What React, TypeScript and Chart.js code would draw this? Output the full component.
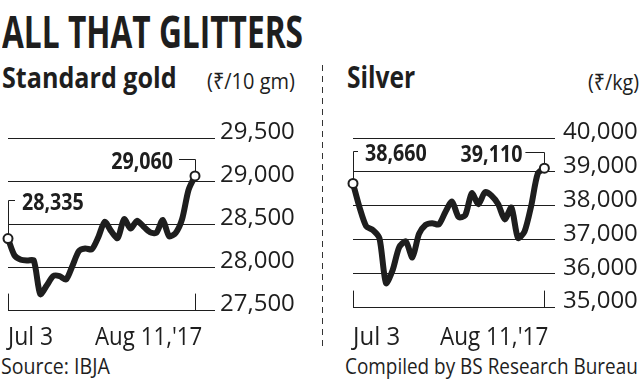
import React, { useEffect, useLayoutEffect, useRef, useState } from "react";
import { Chart, registerables } from "chart.js";
Chart.register(...registerables);

// ---- data ----
const goldValues = [
  28335, 28140, 28090, 28080, 28080, 27690, 27790, 27900, 27900, 27860,
  28020, 28190, 28220, 28210, 28350, 28530, 28420, 28340, 28560, 28450,
  28540, 28475, 28410, 28400, 28550, 28360, 28400, 28560, 28900, 29060,
];
const silverValues = [
  38660, 37950, 37400, 37290, 37050, 35720, 36100, 36780, 36950, 36480,
  37170, 37440, 37490, 37450, 37820, 38130, 37670, 37720, 38370, 38050,
  38400, 38300, 38050, 37600, 37950, 37050, 37250, 38000, 38950, 39110,
];
const goldTicks = [27500, 28000, 28500, 29000, 29500];
const silverTicks = [35000, 36000, 37000, 38000, 39000, 40000];
const startDate = "Jul 3";
const endDate = "Aug 11,'17";

const FONT = "'Open Sans', 'Noto Sans', 'DejaVu Sans', sans-serif";
const INK = "#1e1e1e";

type FitProps = {
  text: string;
  left: number;
  baseline: number;
  size: number;
  weight?: number | string;
  width: number;
};

function FitText({ text, left, baseline, size, weight = 400, width }: FitProps) {
  const ref = useRef<HTMLSpanElement>(null);
  const [k, setK] = useState(1);
  useLayoutEffect(() => {
    const measure = () => {
      if (ref.current) {
        const w = ref.current.offsetWidth;
        if (w > 0) setK(width / w);
      }
    };
    measure();
    const f = (document as any).fonts;
    if (f && f.ready) f.ready.then(measure);
  }, [text, width, size]);
  return (
    <span
      ref={ref}
      style={{
        position: "absolute",
        left,
        top: baseline - 0.888 * size,
        fontFamily: FONT,
        fontSize: size,
        lineHeight: `${size}px`,
        fontWeight: weight as any,
        whiteSpace: "nowrap",
        display: "inline-block",
        transform: `scaleX(${k})`,
        transformOrigin: "0 0",
        color: INK,
      }}
    >
      {text}
    </span>
  );
}

type LabelSpec = { dy: number; stub: number; gap: number };

type ChartProps = {
  values: number[];
  ticks: number[];
  left: number;
  top: number;
  width: number;
  height: number;
  padLeft: number;
  padTop: number;
  padBottom: number;
  axisWidth: number;
  labelPad: number;
  xMax: number;
  firstLabel: LabelSpec;
  lastLabel: LabelSpec;
};

function drawText(ctx: CanvasRenderingContext2D, t: string, x: number, y: number, align: CanvasTextAlign) {
  ctx.save();
  ctx.translate(x, y);
  ctx.scale(0.82, 1);
  ctx.textAlign = align;
  ctx.textBaseline = "alphabetic";
  ctx.fillText(t, 0, 0);
  ctx.restore();
}

function PriceChart(p: ChartProps) {
  const ref = useRef<HTMLCanvasElement>(null);
  useEffect(() => {
    if (!ref.current) return;
    const n = p.values.length;
    const annot = {
      id: "annot",
      beforeDatasetsDraw(chart: any) {
        const ctx: CanvasRenderingContext2D = chart.ctx;
        const xs = chart.scales.x;
        const ys = chart.scales.y;
        const x0 = xs.getPixelForValue(0);
        const y0 = ys.getPixelForValue(p.values[0]);
        const x1 = xs.getPixelForValue(n - 1);
        const y1 = ys.getPixelForValue(p.values[n - 1]);
        const base = ys.getPixelForValue(p.ticks[0]);
        const px0 = Math.round(x0) + 0.5;
        const px1 = Math.round(x1) + 0.5;
        ctx.save();
        ctx.strokeStyle = INK;
        ctx.lineWidth = 1;
        ctx.beginPath();
        ctx.moveTo(px0, base);
        ctx.lineTo(px0, base - 17);
        ctx.moveTo(px1, base);
        ctx.lineTo(px1, base - 17);
        const ly0 = Math.round(y0 + p.firstLabel.dy) + 0.5;
        ctx.moveTo(px0, y0);
        ctx.lineTo(px0, ly0);
        ctx.lineTo(x0 + p.firstLabel.stub, ly0);
        const ly1 = Math.round(y1 + p.lastLabel.dy) + 0.5;
        ctx.moveTo(x1 - p.lastLabel.stub, ly1);
        ctx.lineTo(px1, ly1);
        ctx.lineTo(px1, y1);
        ctx.stroke();
        ctx.fillStyle = INK;
        ctx.font = `bold 24px ${FONT}`;
        drawText(ctx, p.values[0].toLocaleString("en-US"), x0 + p.firstLabel.gap, ly0 + 9, "left");
        drawText(ctx, p.values[n - 1].toLocaleString("en-US"), x1 - p.lastLabel.gap, ly1 + 9, "right");
        ctx.restore();
      },
    };
    const chart = new Chart(ref.current, {
      type: "line",
      data: {
        datasets: [
          {
            data: p.values.map((v, i) => ({ x: i, y: v })),
            borderColor: INK,
            borderWidth: 6,
            tension: 0.25,
            borderJoinStyle: "round",
            borderCapStyle: "round",
            clip: false as any,
            pointRadius: (c: any) => (c.dataIndex === 0 || c.dataIndex === n - 1 ? 4.5 : 0),
            pointHoverRadius: 0,
            pointBackgroundColor: "#fff",
            pointBorderColor: INK,
            pointBorderWidth: 2,
          } as any,
        ],
      },
      options: {
        responsive: false,
        animation: false,
        events: [],
        layout: { padding: { left: p.padLeft, top: p.padTop, bottom: p.padBottom, right: 0 } },
        plugins: { legend: { display: false }, tooltip: { enabled: false } },
        scales: {
          x: { type: "linear", display: false, min: 0, max: p.xMax },
          y: {
            position: "right",
            min: p.ticks[0],
            max: p.ticks[p.ticks.length - 1],
            afterBuildTicks: (s: any) => {
              s.ticks = p.ticks.map((v) => ({ value: v }));
            },
            afterFit: (s: any) => {
              s.width = p.axisWidth;
            },
            grid: { color: INK, lineWidth: 1, drawTicks: false },
            border: { display: false },
            ticks: {
              padding: p.labelPad,
              labelOffset: -6,
              color: INK,
              font: { family: FONT, size: 24 },
              callback: (v: any) => Number(v).toLocaleString("en-US"),
            },
          } as any,
        },
      },
      plugins: [annot],
    });
    return () => chart.destroy();
  }, []);
  return (
    <canvas
      ref={ref}
      width={p.width}
      height={p.height}
      style={{ position: "absolute", left: p.left, top: p.top, width: p.width, height: p.height }}
    />
  );
}

export default function App() {
  const n = goldValues.length;
  return (
    <div
      style={{
        position: "absolute",
        left: 0,
        top: 0,
        width: 642,
        height: 389,
        background: "#fff",
        overflow: "hidden",
      }}
    >
      <FitText text="ALL THAT GLITTERS" left={2} baseline={48} size={44} weight={700} width={301} />
      <FitText text="Standard gold" left={2} baseline={88} size={29} weight={700} width={175} />
      <FitText text="(₹/10 gm)" left={207} baseline={89} size={22} width={88} />
      <FitText text="Silver" left={347} baseline={89} size={30} weight={700} width={68} />
      <FitText text="(₹/kg)" left={588} baseline={90} size={22} width={51} />

      <div
        style={{
          position: "absolute",
          left: 322,
          top: 65,
          width: 1,
          height: 283,
          background: "repeating-linear-gradient(to bottom, #333 0px, #333 6px, transparent 6px, transparent 11px)",
        }}
      />

      <PriceChart
        values={goldValues}
        ticks={goldTicks}
        left={0}
        top={100}
        width={320}
        height={230}
        padLeft={8}
        padTop={38}
        padBottom={16}
        axisWidth={105}
        labelPad={5}
        xMax={(n - 1) * (207 / 187)}
        firstLabel={{ dy: -39, stub: 7, gap: 14 }}
        lastLabel={{ dy: -17, stub: 16, gap: 22 }}
      />
      <PriceChart
        values={silverValues}
        ticks={silverTicks}
        left={322}
        top={100}
        width={320}
        height={230}
        padLeft={31}
        padTop={38}
        padBottom={16}
        axisWidth={87}
        labelPad={8}
        xMax={(silverValues.length - 1) * (201.7 / 191.1)}
        firstLabel={{ dy: -32, stub: 5, gap: 12 }}
        lastLabel={{ dy: -16, stub: 19, gap: 22 }}
      />

      <FitText text={startDate} left={8} baseline={345} size={25} width={45} />
      <FitText text={endDate} left={95} baseline={345} size={25} width={107} />
      <FitText text={startDate} left={353} baseline={345} size={25} width={47} />
      <FitText text={endDate} left={440} baseline={345} size={25} width={108} />

      <FitText text="Source: IBJA" left={1} baseline={375} size={21} width={109} />
      <FitText text="Compiled by BS Research Bureau" left={345} baseline={375} size={21} width={293} />
    </div>
  );
}
